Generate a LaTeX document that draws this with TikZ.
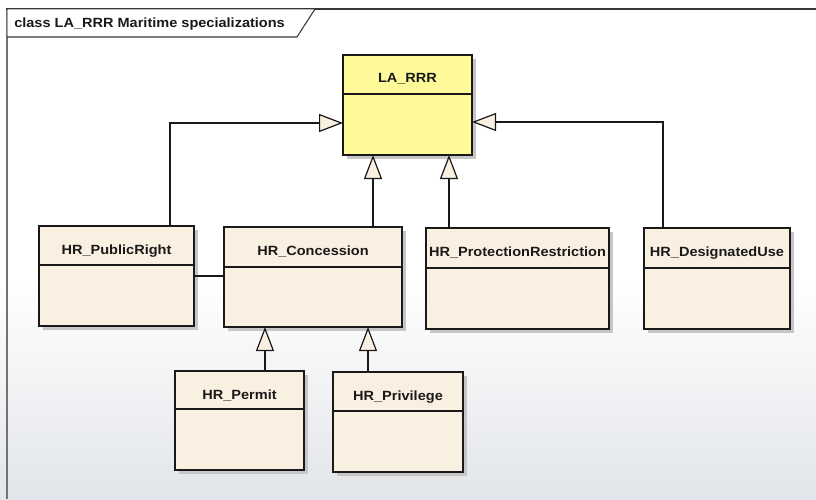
\documentclass[tikz,border=0pt]{standalone}
\usepackage{fontspec}
\newfontfamily\eafont[FakeStretch=1.09]{Liberation Sans}
\usetikzlibrary{arrows.meta}
\definecolor{cream}{RGB}{250,240,225}
\definecolor{yel}{RGB}{255,250,153}
\definecolor{shad}{RGB}{198,198,198}
\definecolor{bgbot}{RGB}{226,229,233}
\definecolor{framel}{RGB}{115,115,115}
\definecolor{framet}{RGB}{55,55,55}
\definecolor{ink}{RGB}{25,25,25}
\tikzset{
  classbox/.style={draw=ink, line width=1.1pt, fill=cream, rectangle, inner sep=0pt, outer sep=0pt},
  ctitle/.style={font=\eafont\bfseries\fontsize{10}{12}\selectfont, text=ink, inner sep=0pt, anchor=base},
  sepline/.style={draw=ink, line width=1pt},
  conn/.style={draw=ink, line width=0.9pt},
  gen/.style={conn, -{Triangle[length=18pt,width=13.5pt,fill=cream]}},
}
\newcommand{\umlclass}[8][cream]{%
  \fill[shad] (#3+4,#4+4) rectangle (#5+4,#6+4);
  \node[classbox, fill=#1, minimum width={(#5-#3)*0.75pt}, minimum height={(#6-#4)*0.75pt}, anchor=north west] (#2) at (#3,#4) {};
  \draw[sepline] (#3,#7) -- (#5,#7);
  \node[ctitle] (#2-t) at ({(#3+#5)/2},#4+28) {#8};
}
\begin{document}
\begin{tikzpicture}[x=0.75pt,y=-0.75pt]
\useasboundingbox (0,0) rectangle (816,499);
\fill[white] (0,0) rectangle (816,499);
\shade[top color=white,bottom color=bgbot] (0,280) rectangle (816,499);
% frame
\draw[framel, line width=1.5pt] (6.5,499) -- (6.5,9);
\draw[framet, line width=1.1pt] (6,8.8) -- (816,8.8);
\fill[white] (7.5,9.5) -- (314,9.5) -- (296.5,36.5) -- (7.5,36.5) -- cycle;
\draw[framet, line width=0.8pt] (315,9) -- (297,37) -- (7,37);
\node[ctitle, anchor=base west] (title) at (14,28) {class LA\_RRR Maritime specializations};
% classes
\umlclass[yel]{lar}{343}{55}{472}{155}{94}{LA\_RRR}
\umlclass{pub}{39}{226}{194}{326}{265}{HR\_PublicRight}
\umlclass{con}{224}{227}{402}{327}{267}{HR\_Concession}
\umlclass{pro}{426}{228}{609}{329}{268}{HR\_ProtectionRestriction}
\umlclass{des}{644}{228}{790}{329}{268}{HR\_DesignatedUse}
\umlclass{per}{175}{371}{304}{470}{409}{HR\_Permit}
\umlclass{pri}{333}{372}{463}{472}{411}{HR\_Privilege}
% generalizations
\draw[gen] ([xshift=40.1pt]pub.north) |- ([yshift=-13.5pt]lar.west);
\draw[gen] ([xshift=-40.5pt]des.north) |- ([yshift=-12.75pt]lar.east);
\draw[gen] ([xshift=45pt]con.north) -- ([xshift=45pt]con.north |- lar.south);
\draw[gen] ([xshift=-51.4pt]pro.north) -- ([xshift=-51.4pt]pro.north |- lar.south);
\draw[gen] ([xshift=19.1pt]per.north) -- ([xshift=19.1pt]per.north |- con.south);
\draw[gen] ([xshift=-22.5pt]pri.north) -- ([xshift=-22.5pt]pri.north |- con.south);
% association
\draw[conn] (pub.east) -- (pub.east -| con.west);
\end{tikzpicture}
\end{document}
